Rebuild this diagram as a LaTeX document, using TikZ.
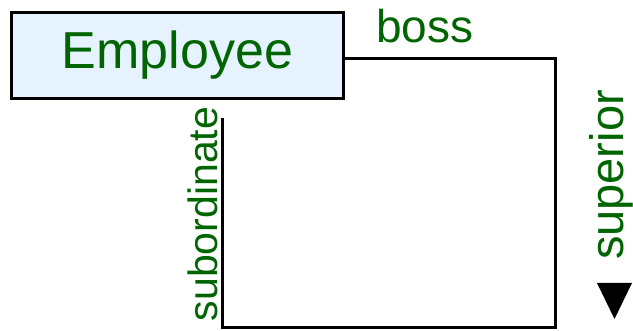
\documentclass[tikz,border=0pt]{standalone}
\usepackage{fontspec}
\setmainfont{Liberation Sans}
\usetikzlibrary{calc}
\definecolor{rolegreen}{HTML}{006400}
\definecolor{classfill}{HTML}{E6F3FF}

\begin{document}
\begin{tikzpicture}[
  x=1pt, y=-1pt,
  classbox/.style={
    draw=black, line width=3pt, fill=classfill,
    font=\fontsize{52}{60}\selectfont, text=rolegreen,
    minimum width=332pt, minimum height=86pt, inner sep=0pt},
  link/.style={black, line width=3pt},
  role/.style={text=rolegreen, inner sep=0pt},
]
  \useasboundingbox (0,0) rectangle (633,331);

  %% ---- Class ----
  \node[classbox] (employee) at (177.5,55.5) {Employee};

  %% ---- Self association ----
  \coordinate (corner1) at (555,59);
  \coordinate (corner2) at (555,328);
  \coordinate (corner3) at (222,328);
  \coordinate (subend)  at (222,118);
  \draw[link] (employee.east |- corner1) -- (corner1) -- (corner2)
    -- (corner3) -- (subend);

  %% ---- Role names ----
  \node[role, anchor=base, font=\fontsize{46}{50}\selectfont] (boss) at (425,43) {boss};
  \node[role, rotate=90, font=\fontsize{47}{50}\selectfont] (superior) at (611,175) {superior};
  \node[role, rotate=90, font=\fontsize{41}{50}\selectfont] (subordinate) at (203,214) {subordinate};

  %% ---- Navigation marker ----
  \fill[black] (597,283) -- (632,283) -- (614.5,319) -- cycle;
\end{tikzpicture}
\end{document}
